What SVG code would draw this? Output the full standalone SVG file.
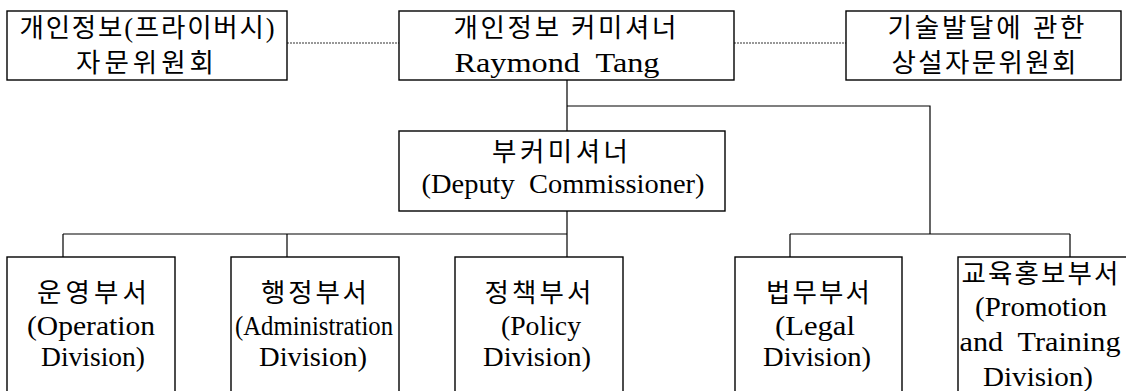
<svg xmlns="http://www.w3.org/2000/svg" width="1126" height="391" viewBox="0 0 1126 391">
<style>
.box{fill:#fff;stroke:#000;stroke-width:1.4}
.ln{fill:none;stroke:#000;stroke-width:1.2}
.dot{fill:none;stroke:#333;stroke-width:1.2;stroke-dasharray:2 1}
.ko{font-family:"Liberation Serif","Noto Sans CJK KR",serif;font-size:26.5px;fill:#000;text-anchor:middle}
.en{font-family:"Liberation Serif","Noto Sans CJK KR",serif;font-size:27px;fill:#000;text-anchor:middle}
</style>
<rect width="1126" height="391" fill="#fff"/>
<g id="connectors">
<path class="dot" d="M287,43H399M734,43H846"/>
<path class="ln" d="M567,80V131M567,106H930V234M567,211V257M63,234H567M63,234V257M287,234V257M790,234H1070M790,234V257M1070,234V257"/>
</g>
<g id="advisory">
<rect class="box" x="7" y="11" width="280" height="69"/>
<text class="ko" x="147" y="37" textLength="255" lengthAdjust="spacing">개인정보(프라이버시)</text>
<text class="ko" x="145" y="72" textLength="138" lengthAdjust="spacing">자문위원회</text>
</g>
<g id="commissioner">
<rect class="box" x="399" y="11" width="335" height="69"/>
<text class="ko" x="565" y="37" textLength="223" lengthAdjust="spacing">개인정보 커미셔너</text>
<text class="en" x="557" y="72" textLength="205" lengthAdjust="spacingAndGlyphs">Raymond&#160; Tang</text>
</g>
<g id="tech-committee">
<rect class="box" x="846" y="11" width="275" height="69"/>
<text class="ko" x="986" y="37" textLength="197" lengthAdjust="spacing">기술발달에 관한</text>
<text class="ko" x="984" y="72" textLength="185" lengthAdjust="spacing">상설자문위원회</text>
</g>
<g id="deputy">
<rect class="box" x="399" y="131" width="326" height="80"/>
<text class="ko" x="560" y="161" textLength="136" lengthAdjust="spacing">부커미셔너</text>
<text class="en" x="563" y="193" textLength="283" lengthAdjust="spacingAndGlyphs">(Deputy&#160; Commissioner)</text>
</g>
<g id="operation">
<rect class="box" x="7" y="257" width="168" height="150"/>
<text class="ko" x="92" y="302" textLength="110" lengthAdjust="spacing">운영부서</text>
<text class="en" x="91" y="335" textLength="128" lengthAdjust="spacingAndGlyphs">(Operation</text>
<text class="en" x="93" y="366" textLength="104" lengthAdjust="spacingAndGlyphs">Division)</text>
</g>
<g id="administration">
<rect class="box" x="231" y="257" width="168" height="150"/>
<text class="ko" x="314" y="302" textLength="106" lengthAdjust="spacing">행정부서</text>
<text class="en" x="314" y="335" textLength="158" lengthAdjust="spacingAndGlyphs">(Administration</text>
<text class="en" x="313" y="366" textLength="108" lengthAdjust="spacingAndGlyphs">Division)</text>
</g>
<g id="policy">
<rect class="box" x="455" y="257" width="168" height="150"/>
<text class="ko" x="538" y="302" textLength="107" lengthAdjust="spacing">정책부서</text>
<text class="en" x="541" y="335" textLength="80" lengthAdjust="spacingAndGlyphs">(Policy</text>
<text class="en" x="537" y="366" textLength="108" lengthAdjust="spacingAndGlyphs">Division)</text>
</g>
<g id="legal">
<rect class="box" x="735" y="257" width="167" height="150"/>
<text class="ko" x="818" y="302" textLength="104" lengthAdjust="spacing">법무부서</text>
<text class="en" x="815" y="335" textLength="80" lengthAdjust="spacingAndGlyphs">(Legal</text>
<text class="en" x="817" y="366" textLength="108" lengthAdjust="spacingAndGlyphs">Division)</text>
</g>
<g id="promotion">
<rect class="box" x="958" y="257" width="170" height="150"/>
<text class="ko" x="1040" y="283" textLength="157" lengthAdjust="spacing">교육홍보부서</text>
<text class="en" x="1041" y="316" textLength="132" lengthAdjust="spacingAndGlyphs">(Promotion</text>
<text class="en" x="1040" y="351" textLength="161" lengthAdjust="spacingAndGlyphs">and&#160; Training</text>
<text class="en" x="1038" y="386" textLength="110" lengthAdjust="spacingAndGlyphs">Division)</text>
</g>
</svg>
